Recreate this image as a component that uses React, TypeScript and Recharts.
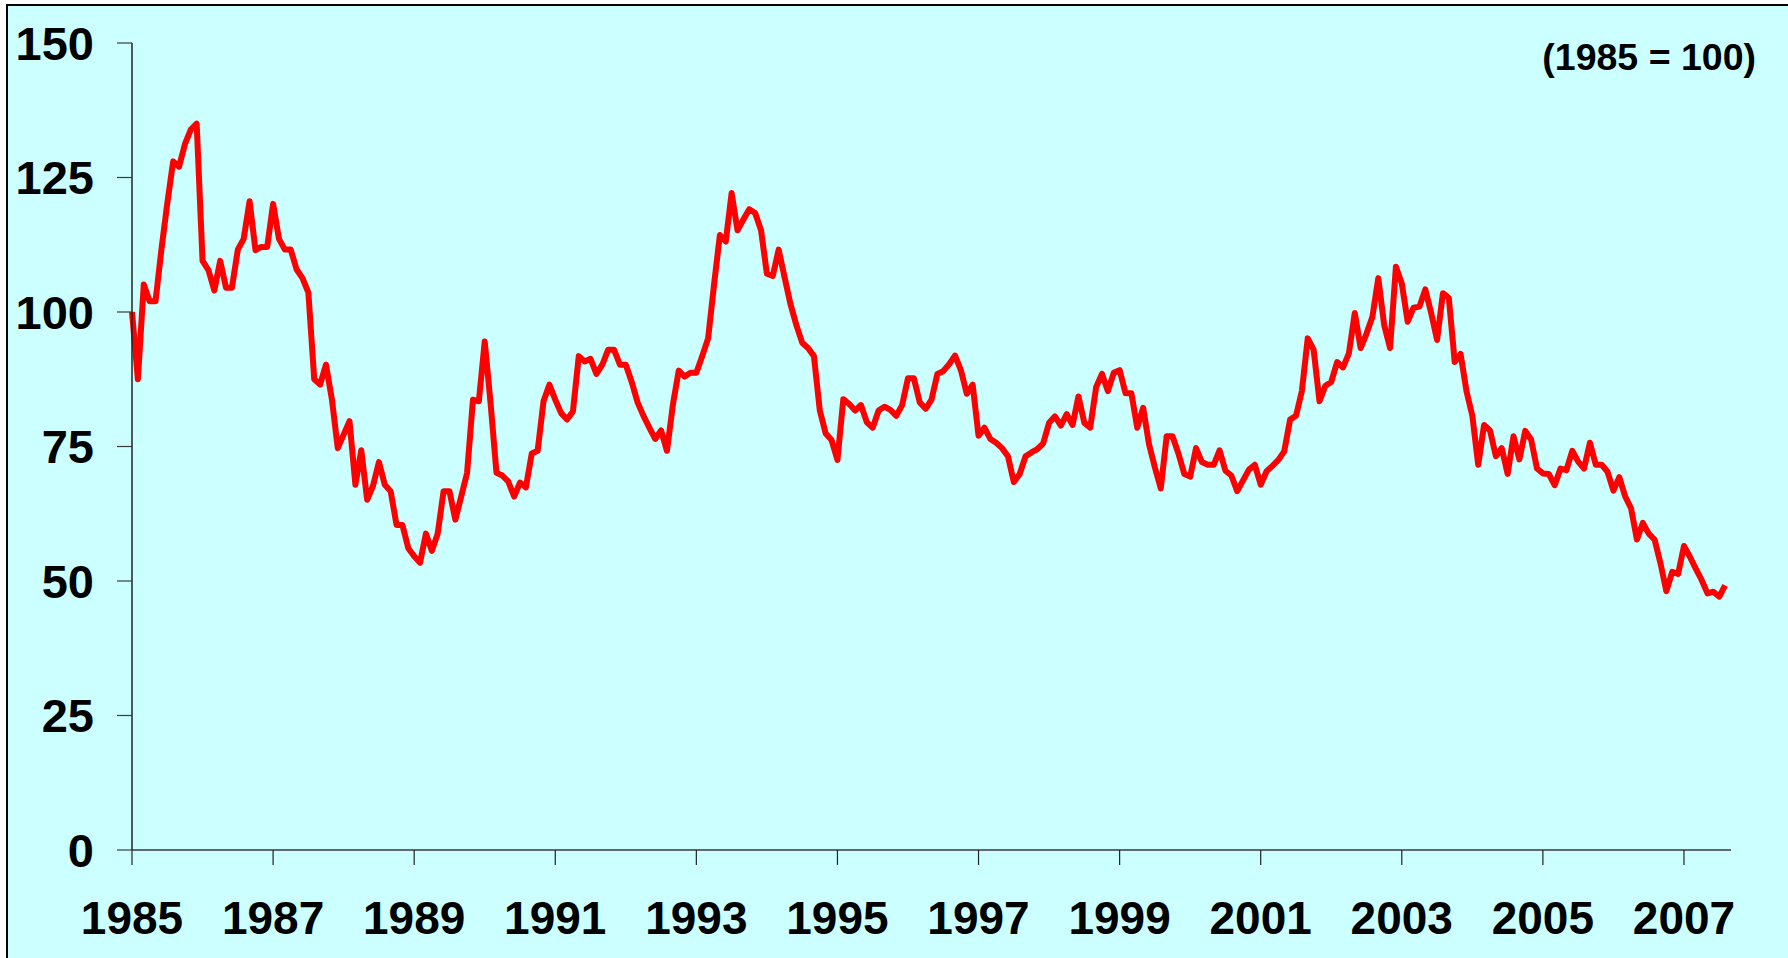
import { LineChart, Line, XAxis, YAxis } from "recharts";

// monthly index, 1985 = 100 (Jan 1985 .. Aug 2007)
const y1985 = [100, 87.5, 105.1, 102, 102, 111.6, 120.2, 128, 127, 131.2, 133.9, 135];
const y1986 = [109.5, 107.8, 104, 109.5, 104.5, 104.5, 111.6, 113.6, 120.6, 111.5, 112.1, 112.1];
const y1987 = [120.1, 113.6, 111.6, 111.6, 107.9, 106.3, 103.6, 87.5, 86.5, 90.2, 83.8, 74.7];
const y1988 = [77.2, 79.7, 67.9, 74.3, 65.1, 67.7, 72.1, 67.9, 66.7, 60.4, 60.4, 56.1];
const y1989 = [54.6, 53.4, 58.8, 55.6, 58.8, 66.7, 66.7, 61.4, 65.7, 70.1, 83.7, 83.4];
const y1990 = [94.5, 83, 70.1, 69.6, 68.5, 65.7, 68.3, 67.4, 73.7, 74.2, 83.4, 86.5];
const y1991 = [83.7, 81.2, 80.0, 81.5, 91.8, 90.8, 91.3, 88.5, 90.2, 93.0, 93.0, 90.2];
const y1992 = [90.2, 87.0, 83.2, 80.7, 78.5, 76.4, 78.0, 74.2, 82.7, 89.1, 88.0, 88.7];
const y1993 = [88.7, 91.8, 95.1, 105, 114.3, 113.1, 122.1, 115.2, 117.2, 119.1, 118.4, 115.2];
const y1994 = [107.1, 106.7, 111.6, 106.5, 101.5, 97.6, 94.3, 93.3, 91.8, 81.7, 77.4, 76.2];
const y1995 = [72.5, 83.8, 82.9, 81.7, 82.7, 79.5, 78.5, 81.7, 82.4, 81.8, 80.7, 82.7];
const y1996 = [87.7, 87.7, 83.2, 82.0, 83.7, 88.5, 89.0, 90.3, 91.9, 89.2, 84.8, 86.5];
const y1997 = [77.0, 78.5, 76.4, 75.7, 74.7, 73.2, 68.4, 69.9, 73.2, 73.9, 74.5, 75.6];
const y1998 = [79.4, 80.6, 78.9, 81.0, 79.0, 84.3, 79.4, 78.5, 86.0, 88.5, 85.3, 88.7];
const y1999 = [89.2, 84.9, 84.9, 78.5, 82.2, 75.4, 71.1, 67.2, 76.9, 76.9, 73.7, 69.9];
const y2000 = [69.4, 74.7, 72.1, 71.6, 71.6, 74.3, 70.5, 69.6, 66.7, 68.7, 70.7, 71.6];
const y2001 = [67.9, 70.4, 71.4, 72.5, 74.1, 80.0, 80.7, 85.3, 95.1, 93.0, 83.4, 86.3];
const y2002 = [87.0, 90.7, 89.7, 92.3, 99.8, 93.3, 96.0, 99.1, 106.3, 97.6, 93.3, 108.4];
const y2003 = [105.3, 98.2, 100.8, 101.0, 104.2, 99.8, 94.8, 103.5, 102.6, 90.7, 92.2, 85.3];
const y2004 = [80.7, 71.6, 79.0, 78.0, 73.2, 74.7, 69.9, 76.9, 72.6, 77.9, 76.3, 70.9];
const y2005 = [70.0, 69.9, 67.8, 70.9, 70.6, 74.2, 72.2, 70.9, 75.7, 71.6, 71.6, 70.3];
const y2006 = [66.8, 69.3, 65.7, 63.5, 57.7, 60.8, 58.8, 57.7, 53.3, 48.1, 51.7, 51.3];
const y2007 = [56.5, 54.5, 52.3, 50.2, 47.7, 48.0, 47.1, 49.2];

const yearTicks = [0, 24, 48, 72, 96, 120, 144, 168, 192, 216, 240, 264];
const valueTicks = [0, 25, 50, 75, 100, 125, 150];

const series = [
  y1985, y1986, y1987, y1988, y1989, y1990, y1991, y1992, y1993, y1994, y1995, y1996,
  y1997, y1998, y1999, y2000, y2001, y2002, y2003, y2004, y2005, y2006, y2007,
].flat();

const data = series.map((v, i) => ({ t: i, v }));

const FONT = '"Liberation Sans", Arial, sans-serif';

export default function App() {
  return (
    <div
      style={{
        position: "fixed",
        left: 0,
        top: 0,
        width: 1788,
        height: 958,
        overflow: "hidden",
        background: "#ffffff",
      }}
    >
      <div
        style={{
          position: "absolute",
          left: 6,
          top: 4,
          width: 1800,
          height: 970,
          background: "#CCFFFF",
          borderLeft: "2px solid #000",
          borderTop: "2px solid #000",
        }}
      />
      <div
        style={{
          position: "absolute",
          right: 32,
          top: 39,
          fontFamily: FONT,
          fontWeight: 700,
          fontSize: 37.5,
          lineHeight: 1,
          color: "#000",
          whiteSpace: "nowrap",
        }}
      >
        (1985 = 100)
      </div>
      <div style={{ position: "absolute", left: 0, top: 0 }}>
        <LineChart
          width={1788}
          height={958}
          data={data}
          margin={{ top: 43, right: 57, bottom: 0, left: 0 }}
        >
          <XAxis
            dataKey="t"
            type="number"
            domain={[0, 272]}
            ticks={yearTicks}
            interval={0}
            tickFormatter={(t: number) => String(1985 + t / 12)}
            height={108}
            tickSize={15}
            tickMargin={36}
            axisLine={{ stroke: "#3a3a3a", strokeWidth: 1.5 }}
            tickLine={{ stroke: "#222", strokeWidth: 1.2 }}
            tick={{ fontFamily: FONT, fontWeight: 700, fontSize: 46, fill: "#000" }}
          />
          <YAxis
            type="number"
            domain={[0, 150]}
            ticks={valueTicks}
            interval={0}
            width={132}
            tickSize={15}
            tickMargin={23}
            axisLine={{ stroke: "#222", strokeWidth: 1.5 }}
            tickLine={{ stroke: "#3a3a3a", strokeWidth: 1.2 }}
            tick={{ fontFamily: FONT, fontWeight: 700, fontSize: 47, fill: "#000" }}
          />
          <Line
            type="linear"
            dataKey="v"
            stroke="#FF0000"
            strokeWidth={6}
            strokeLinejoin="round"
            dot={false}
            activeDot={false}
            isAnimationActive={false}
          />
        </LineChart>
      </div>
    </div>
  );
}
